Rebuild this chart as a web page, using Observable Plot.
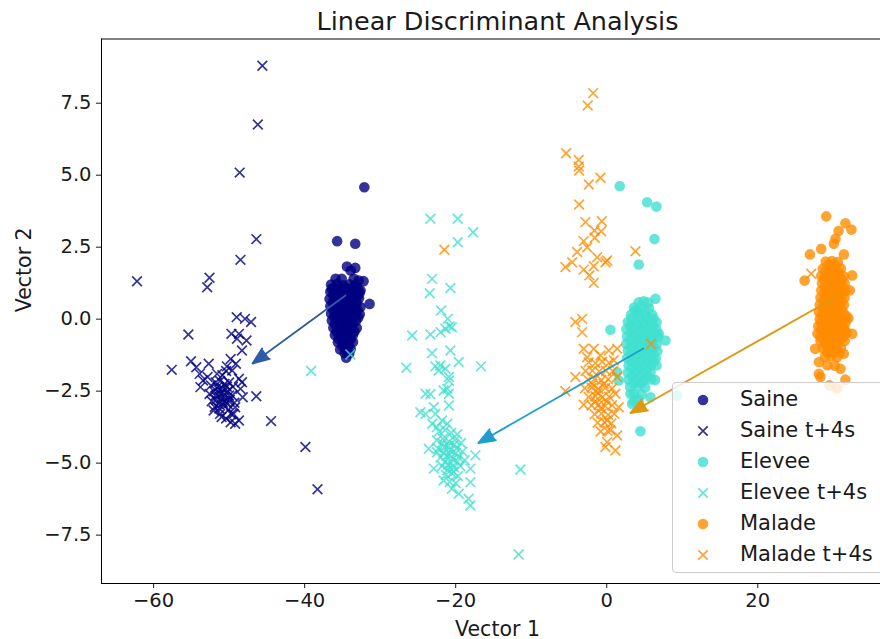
<!DOCTYPE html>
<html>
<head>
<meta charset="utf-8">
<script src="https://cdn.jsdelivr.net/npm/d3@7"></script>
<script src="https://cdn.jsdelivr.net/npm/@observablehq/plot@0.6"></script>
<style>
html, body { margin: 0; padding: 0; background: #fff; overflow: hidden; }
#wrap { position: relative; width: 880px; height: 639px; overflow: hidden; font-family: "DejaVu Sans", sans-serif; }
#legend { position: absolute; left: 672px; top: 382px; width: 240px; height: 191px; border: 1px solid #cccccc; border-radius: 4px; background: rgba(255,255,255,0.8); box-sizing: border-box; }
.item { position: absolute; left: 0; height: 31px; width: 240px; }
.item svg { position: absolute; left: 19px; top: 5px; }
.item span { position: absolute; left: 67px; top: 0; line-height: 31px; font-size: 21px; color: #1a1a1a; white-space: nowrap; }
</style>
</head>
<body>
<div id="wrap"><div id="chart"></div><div id="legend"></div></div>
<script>
// ---- axes / labels ----
const title = "Linear Discriminant Analysis";
const xLabel = "Vector 1";
const yLabel = "Vector 2";
const xDomain = [-66.9, 36.25];
const yDomain = [-9.18, 9.73];
const xTicks = [-60, -40, -20, 0, 20];
const yTicks = [-7.5, -5, -2.5, 0, 2.5, 5, 7.5];

const seriesNames = ["Saine", "Saine t+4s", "Elevee", "Elevee t+4s", "Malade", "Malade t+4s"];
const classColors = ["navy", "turquoise", "darkorange"];
const arrowColors = ["#2d5ba8", "#1f9dcc", "#dc9a14"];

// ---- data (Vector 1, Vector 2) ----
const saine = [
  [-32.1, 4.58], [-35.7, 2.71], [-33.3, 2.62], [-34.4, 1.83], [-33.3, 1.78], [-33.9, 1.69],
  [-35.9, 1.40], [-35.1, 1.40], [-33.5, 1.40], [-32.85, 1.34], [-32.2, 1.32], [-31.4, 0.53],
  [-36.4, 1.06], [-32.6, 1.0], [-34.5, -1.34], [-34.8, -0.86], [-34.3, -0.95],
  [-36.5, 1.2], [-35.7, 1.22], [-34.9, 1.18], [-34.1, 1.21], [-33.3, 1.17],
  [-36.6, 0.95], [-35.8, 0.97], [-35.0, 0.93], [-34.2, 0.96], [-33.4, 0.94], [-32.7, 0.92],
  [-36.7, 0.7], [-35.9, 0.72], [-35.1, 0.68], [-34.3, 0.71], [-33.5, 0.69], [-32.8, 0.73],
  [-36.6, 0.45], [-35.8, 0.47], [-35.0, 0.43], [-34.2, 0.46], [-33.4, 0.44], [-32.6, 0.42],
  [-36.5, 0.2], [-35.7, 0.22], [-34.9, 0.18], [-34.1, 0.21], [-33.3, 0.19], [-32.7, 0.17],
  [-36.4, -0.05], [-35.6, -0.03], [-34.8, -0.07], [-34.0, -0.04], [-33.2, -0.06],
  [-36.2, -0.3], [-35.4, -0.28], [-34.6, -0.32], [-33.8, -0.29], [-33.1, -0.31],
  [-36.0, -0.55], [-35.2, -0.53], [-34.4, -0.57], [-33.6, -0.54],
  [-35.6, -0.8], [-34.9, -0.78], [-34.2, -0.82], [-33.6, -0.79],
  [-35.3, -1.05], [-34.6, -1.07], [-33.9, -1.04],
  [-36.1, 1.08], [-35.3, 1.08], [-34.5, 1.07], [-33.7, 1.09], [-33.0, 1.08],
  [-36.2, 0.83], [-35.4, 0.84], [-34.6, 0.82], [-33.8, 0.83], [-33.0, 0.81],
  [-36.3, 0.58], [-35.5, 0.57], [-34.7, 0.59], [-33.9, 0.58], [-33.1, 0.56],
  [-36.2, 0.33], [-35.4, 0.34], [-34.6, 0.32], [-33.8, 0.33], [-33.0, 0.31],
  [-36.1, 0.08], [-35.3, 0.07], [-34.5, 0.09], [-33.7, 0.08], [-32.9, 0.06],
  [-36.0, -0.18], [-35.2, -0.17], [-34.4, -0.19], [-33.6, -0.18],
  [-35.8, -0.43], [-35.0, -0.42], [-34.2, -0.44], [-33.4, -0.43],
  [-35.5, -0.68], [-34.7, -0.67], [-33.9, -0.69],
  [-35.0, -0.93], [-34.2, -0.92], [-34.7, -1.18], [-34.1, -1.19]
];
const saineT4 = [
  [-45.6, 8.8], [-46.2, 6.76], [-48.6, 5.09], [-46.4, 2.78], [-48.5, 2.06], [-62.2, 1.32],
  [-52.6, 1.44], [-52.9, 1.11], [-49.0, 0.07], [-47.9, 0.01], [-47.1, -0.10], [-55.4, -0.53],
  [-49.7, -0.51], [-48.7, -0.51], [-48.96, -0.68], [-47.7, -0.74], [-48.3, -1.09], [-57.6, -1.76],
  [-55.05, -1.46], [-54.35, -1.67], [-52.7, -1.55], [-53.9, -1.9], [-49.8, -1.38], [-50.3, -1.64],
  [-49.1, -1.55], [-49.6, -1.78], [-53.45, -2.13], [-52.85, -2.01], [-53.8, -2.36], [-48.7, -2.07],
  [-48.3, -2.19], [-48.5, -2.42], [-48.2, -2.71], [-46.4, -2.68], [-49.2, -3.06], [-49.4, -3.29],
  [-51.2, -3.29], [-52.05, -3.17], [-49.8, -3.58], [-49.2, -3.63], [-48.7, -3.52], [-44.45, -3.54],
  [-39.9, -4.44], [-38.3, -5.91],
  [-52.4, -2.3], [-51.8, -2.2], [-51.2, -2.15], [-50.6, -2.25], [-50.0, -2.2], [-49.5, -2.35],
  [-52.6, -2.6], [-52.0, -2.5], [-51.4, -2.45], [-50.8, -2.55], [-50.2, -2.5], [-49.6, -2.65],
  [-52.3, -2.85], [-51.7, -2.8], [-51.1, -2.75], [-50.5, -2.85], [-49.9, -2.8], [-49.3, -2.9],
  [-51.9, -3.05], [-51.3, -3.1], [-50.7, -3.0], [-50.1, -3.15], [-49.7, -3.3],
  [-51.6, -1.9], [-50.9, -1.95], [-50.4, -1.8], [-51.0, -3.4], [-50.4, -3.45],
  [-51.5, -2.35], [-50.9, -2.4], [-50.3, -2.35], [-51.8, -2.65], [-51.2, -2.6], [-50.6, -2.7],
  [-50.0, -2.65], [-51.4, -2.95], [-50.8, -2.9], [-50.2, -2.95]
];
const elevee = [
  [1.72, 4.62], [5.35, 4.06], [6.58, 3.91], [6.32, 2.78], [4.24, 1.90], [6.45, 0.71],
  [4.24, 0.59], [3.8, 0.30], [0.49, -0.37], [7.77, -0.74], [6.89, -0.51], [1.38, -1.84],
  [1.59, -2.13], [4.46, -3.89], [9.32, -2.65], [3.36, -2.94], [3.14, -2.59], [5.79, -2.71],
  [3.6, 0.4], [4.6, 0.42], [5.6, 0.38], [4.9, 0.62], [5.5, 0.58],
  [3.2, 0.15], [4.2, 0.17], [5.2, 0.13], [6.0, 0.16],
  [2.8, -0.1], [3.8, -0.08], [4.8, -0.12], [5.8, -0.09], [6.6, -0.11],
  [2.6, -0.35], [3.6, -0.33], [4.6, -0.37], [5.6, -0.34], [6.6, -0.36],
  [2.7, -0.6], [3.7, -0.58], [4.7, -0.62], [5.7, -0.59], [6.8, -0.61],
  [2.6, -0.85], [3.6, -0.83], [4.6, -0.87], [5.6, -0.84], [6.6, -0.86],
  [2.8, -1.1], [3.8, -1.08], [4.8, -1.12], [5.8, -1.09], [6.7, -1.11],
  [2.7, -1.35], [3.7, -1.33], [4.7, -1.37], [5.7, -1.34], [6.5, -1.36],
  [2.9, -1.6], [3.9, -1.58], [4.9, -1.62], [5.9, -1.59], [6.6, -1.61],
  [2.8, -1.85], [3.8, -1.83], [4.8, -1.87], [5.8, -1.84],
  [2.9, -2.1], [3.9, -2.08], [4.9, -2.12], [5.9, -2.09], [6.4, -2.11],
  [3.1, -2.35], [4.1, -2.33], [5.1, -2.37], [3.6, -2.6], [4.6, -2.62],
  [3.6, -2.85], [4.2, -2.8],
  [4.1, 0.28], [5.1, 0.27],
  [3.3, 0.02], [4.3, 0.03], [5.3, 0.01], [6.2, 0.02],
  [3.1, -0.23], [4.1, -0.22], [5.1, -0.24], [6.1, -0.23],
  [3.2, -0.48], [4.2, -0.47], [5.2, -0.49], [6.2, -0.48],
  [3.1, -0.73], [4.1, -0.72], [5.1, -0.74], [6.1, -0.73],
  [3.2, -0.98], [4.2, -0.97], [5.2, -0.99], [6.2, -0.98],
  [3.2, -1.23], [4.2, -1.22], [5.2, -1.24], [6.1, -1.23],
  [3.3, -1.48], [4.3, -1.47], [5.3, -1.49], [6.2, -1.48],
  [3.3, -1.73], [4.3, -1.72], [5.3, -1.74],
  [3.4, -1.98], [4.4, -1.97], [5.4, -1.99], [3.6, -2.23], [4.6, -2.22]
];
const eleveeT4 = [
  [-23.35, 3.49], [-19.73, 3.49], [-17.7, 3.02], [-19.73, 2.67], [-23.13, 1.40], [-23.44, 0.90],
  [-20.7, 1.08], [-21.93, 0.30], [-21.05, 0.01], [-20.8, -0.25], [-21.36, -0.33], [-22.0, -0.45],
  [-20.5, -0.28], [-25.77, -0.57], [-23.35, -0.53], [-23.13, -1.18], [-20.7, -1.09], [-19.6, -1.49],
  [-26.53, -1.69], [-22.69, -1.64], [-22.03, -1.61], [-21.36, -1.72], [-22.25, -1.78], [-16.64, -1.64],
  [-20.9, -2.01], [-20.9, -2.13], [-21.1, -2.42], [-21.6, -2.48], [-20.9, -2.59], [-24.0, -2.59],
  [-23.35, -2.61], [-20.9, -3.0], [-24.68, -3.23], [-24.0, -3.29], [-22.9, -3.06], [-22.7, -3.29],
  [-23.1, -3.63], [-22.5, -3.75], [-21.8, -3.52], [-21.1, -3.63], [-23.57, -4.5], [-22.9, -5.19],
  [-22.46, -4.62], [-17.39, -4.73], [-11.43, -5.22], [-18.05, -5.19], [-18.05, -5.66], [-19.6, -6.06],
  [-18.3, -6.24], [-18.05, -6.47], [-20.5, -5.89], [-21.6, -5.6], [-11.66, -8.17], [-39.15, -1.8],
  [-33.95, -1.23],
  [-22.2, -3.9], [-21.4, -3.85], [-20.6, -3.95], [-19.8, -4.0],
  [-22.5, -4.2], [-21.7, -4.15], [-20.9, -4.25], [-20.1, -4.2], [-19.3, -4.3],
  [-22.3, -4.5], [-21.5, -4.45], [-20.7, -4.55], [-19.9, -4.5], [-19.1, -4.6],
  [-22.0, -4.8], [-21.2, -4.75], [-20.4, -4.85], [-19.6, -4.8], [-18.8, -4.9],
  [-21.8, -5.1], [-21.0, -5.05], [-20.2, -5.15], [-19.4, -5.1],
  [-21.3, -5.4], [-20.5, -5.35], [-19.7, -5.45], [-20.8, -5.65], [-20.0, -5.7],
  [-21.8, -4.3], [-21.0, -4.4], [-20.2, -4.35], [-21.6, -4.65], [-20.8, -4.7], [-20.0, -4.65],
  [-21.4, -4.95], [-20.6, -5.0], [-19.8, -4.95], [-21.1, -5.25], [-20.3, -5.3]
];
const malade = [
  [29.06, 3.57], [31.6, 3.33], [32.4, 3.11], [30.7, 3.06], [30.3, 2.79], [30.07, 2.62],
  [28.4, 2.44], [26.9, 2.25], [31.4, 2.25], [32.5, 1.52], [26.2, 1.34], [32.2, 1.0],
  [32.5, -0.51], [27.6, -1.03], [28.1, -1.49], [30.95, -1.72], [28.1, -1.9], [28.3, -2.01],
  [31.6, -2.1], [31.4, -1.2], [29.5, -2.3], [30.5, -2.4],
  [29.0, 2.0], [29.8, 2.02], [30.6, 1.98],
  [28.6, 1.75], [29.4, 1.77], [30.2, 1.73], [31.0, 1.76],
  [28.4, 1.5], [29.2, 1.52], [30.0, 1.48], [30.8, 1.51], [31.4, 1.49],
  [28.5, 1.25], [29.3, 1.27], [30.1, 1.23], [30.9, 1.26], [31.5, 1.24],
  [28.4, 1.0], [29.2, 1.02], [30.0, 0.98], [30.8, 1.01], [31.6, 0.99],
  [28.3, 0.75], [29.1, 0.77], [29.9, 0.73], [30.7, 0.76], [31.5, 0.74],
  [28.2, 0.5], [29.0, 0.52], [29.8, 0.48], [30.6, 0.51], [31.4, 0.49],
  [28.1, 0.25], [28.9, 0.27], [29.7, 0.23], [30.5, 0.26], [31.3, 0.24],
  [28.2, 0.0], [29.0, 0.02], [29.8, -0.02], [30.6, 0.01], [31.4, -0.01], [32.0, 0.03],
  [28.0, -0.25], [28.8, -0.23], [29.6, -0.27], [30.4, -0.24], [31.2, -0.26],
  [27.9, -0.5], [28.7, -0.48], [29.5, -0.52], [30.3, -0.49], [31.1, -0.51], [31.8, -0.47],
  [28.3, -0.75], [29.1, -0.73], [29.9, -0.77], [30.7, -0.74], [31.5, -0.76],
  [28.6, -1.0], [29.4, -0.98], [30.2, -1.02], [31.0, -0.99],
  [28.9, -1.3], [29.7, -1.28], [30.5, -1.32], [29.2, -1.6], [30.2, -1.62],
  [29.4, 1.88], [30.2, 1.87],
  [29.0, 1.63], [29.8, 1.62], [30.6, 1.64],
  [28.8, 1.38], [29.6, 1.37], [30.4, 1.39], [31.1, 1.38],
  [28.9, 1.13], [29.7, 1.12], [30.5, 1.14], [31.2, 1.13],
  [28.8, 0.88], [29.6, 0.87], [30.4, 0.89], [31.2, 0.88],
  [28.7, 0.63], [29.5, 0.62], [30.3, 0.64], [31.1, 0.63],
  [28.6, 0.38], [29.4, 0.37], [30.2, 0.39], [31.0, 0.38],
  [28.5, 0.13], [29.3, 0.12], [30.1, 0.14], [30.9, 0.13], [31.7, 0.12],
  [28.4, -0.12], [29.2, -0.13], [30.0, -0.11], [30.8, -0.12], [31.6, -0.13],
  [28.4, -0.37], [29.2, -0.36], [30.0, -0.38], [30.8, -0.37], [31.5, -0.36],
  [28.3, -0.62], [29.1, -0.63], [29.9, -0.61], [30.7, -0.62], [31.3, -0.63],
  [28.9, -0.87], [29.7, -0.86], [30.5, -0.88], [29.2, -1.15], [30.0, -1.14], [30.8, -1.16]
];
const maladeT4 = [
  [-1.8, 7.85], [-2.52, 7.42], [-5.38, 5.76], [-3.71, 5.53], [-3.71, 5.30], [-3.65, 5.16],
  [-0.83, 4.91], [-2.38, 4.68], [-3.66, 3.98], [-2.82, 3.37], [-0.65, 3.40], [-1.63, 3.08],
  [-0.74, 3.05], [-1.59, 2.83], [-3.05, 2.71], [-2.6, 2.50], [-3.92, 2.33], [-4.58, 1.98],
  [-5.47, 1.81], [-3.05, 1.72], [-1.72, 1.84], [-1.27, 2.15], [0.05, 2.04], [-1.72, 1.26],
  [-2.3, 1.52], [-0.17, 1.98], [3.8, 2.36], [-21.5, 2.41], [27.07, 1.58], [-4.15, -0.10],
  [-3.26, 0.01], [-3.26, -0.45], [5.85, -0.86],
  [-3.05, -1.03], [-1.72, -1.03], [0.27, -1.09], [1.38, -1.03], [-2.6, -1.32], [-0.83, -1.26],
  [0.93, -1.43], [-4.15, -2.01], [-5.47, -2.5], [-3.05, -2.97], [1.38, -2.01], [1.15, -2.59],
  [1.59, -3.06], [0.05, -3.52], [0.49, -3.86], [1.38, -4.04], [-0.17, -4.44], [1.15, -4.56],
  [0.05, -4.27],
  [-2.4, -1.5], [-1.5, -1.52], [-0.6, -1.48], [0.3, -1.51],
  [-2.8, -1.8], [-1.9, -1.78], [-1.0, -1.82], [-0.1, -1.79], [0.8, -1.81],
  [-2.5, -2.1], [-1.6, -2.08], [-0.7, -2.12], [0.2, -2.09],
  [-2.9, -2.4], [-2.0, -2.38], [-1.1, -2.42], [-0.2, -2.39], [0.7, -2.41],
  [-2.4, -2.7], [-1.5, -2.68], [-0.6, -2.72], [0.3, -2.69],
  [-2.0, -3.0], [-1.1, -2.98], [-0.2, -3.02], [0.7, -2.99],
  [-1.6, -3.3], [-0.7, -3.28], [0.2, -3.32], [1.0, -3.29],
  [-1.2, -3.6], [-0.3, -3.58], [0.6, -3.62], [-0.8, -3.9], [0.1, -3.88],
  [-1.9, -2.25], [-1.2, -2.55], [-0.4, -2.25], [-1.5, -2.85], [-0.8, -3.1], [0.0, -2.85]
];
// arrows: from class mean at t to class mean at t+4s
const arrowFrom = [[-34.6, 0.82], [4.86, -1.02], [30.3, 0.76]];
const arrowTo = [[-46.9, -1.54], [-17.0, -4.3], [3.14, -3.26]];

const circleSets = [saine, elevee, malade];
const crossSets = [saineT4, eleveeT4, maladeT4];

const marks = [];
for (let i = 0; i < 3; i++) {
  marks.push(Plot.dot(circleSets[i], {x: d => d[0], y: d => d[1], r: 5.3, fill: classColors[i], fillOpacity: 0.8, stroke: "none"}));
  marks.push(Plot.dot(crossSets[i], {x: d => d[0], y: d => d[1], r: 4.5, symbol: "times", stroke: classColors[i], strokeOpacity: 0.8, strokeWidth: 1.7}));
}
for (let i = 0; i < 3; i++) {
  marks.push(Plot.arrow([i], {
    x1: j => arrowFrom[j][0], y1: j => arrowFrom[j][1],
    x2: j => arrowTo[j][0], y2: j => arrowTo[j][1],
    stroke: arrowColors[i], fill: arrowColors[i], strokeWidth: 1.9,
    headLength: 14, headAngle: 42
  }));
}
// spines
marks.push(Plot.ruleX([xDomain[0]], {stroke: "black", strokeWidth: 1}));
marks.push(Plot.ruleY([yDomain[0]], {stroke: "black", strokeWidth: 1}));
marks.push(Plot.ruleY([yDomain[1]], {stroke: "black", strokeWidth: 1}));
// title & axis labels
marks.push(Plot.text([title], {text: d => d, frameAnchor: "top", dx: 6.5, dy: -9.5, lineAnchor: "bottom", fontSize: 25.5, fill: "#1a1a1a"}));
marks.push(Plot.text([xLabel], {text: d => d, frameAnchor: "bottom", dx: 6.5, dy: 52, lineAnchor: "bottom", fontSize: 20.5, fill: "#1a1a1a"}));
marks.push(Plot.text([yLabel], {text: d => d, frameAnchor: "left", dx: -71, dy: 1, rotate: -90, lineAnchor: "bottom", fontSize: 20.5, fill: "#1a1a1a"}));

const chart = Plot.plot({
  width: 880,
  height: 639,
  marginLeft: 101,
  marginRight: 0,
  marginTop: 38.5,
  marginBottom: 56,
  style: {fontFamily: "DejaVu Sans", fontSize: "19.5px", color: "#1a1a1a", background: "white", overflow: "visible"},
  x: {domain: xDomain, ticks: xTicks, tickSize: 5, tickPadding: 5, label: null, tickFormat: d3.format("d")},
  y: {domain: yDomain, ticks: yTicks, tickSize: 5, tickPadding: 5, label: null, tickFormat: d3.format(".1f")},
  marks
});
document.getElementById("chart").appendChild(chart);

// ---- legend ----
const legend = document.getElementById("legend");
seriesNames.forEach((name, i) => {
  const color = classColors[Math.floor(i / 2)];
  const isCross = i % 2 === 1;
  const item = document.createElement("div");
  item.className = "item";
  item.style.top = (1 + i * 31) + "px";
  const svgNS = "http://www.w3.org/2000/svg";
  const svg = document.createElementNS(svgNS, "svg");
  svg.setAttribute("width", 22); svg.setAttribute("height", 22);
  if (isCross) {
    const p = document.createElementNS(svgNS, "path");
    p.setAttribute("d", "M6.3,6.3L15.7,15.7M6.3,15.7L15.7,6.3");
    p.setAttribute("stroke", color); p.setAttribute("stroke-opacity", 0.8); p.setAttribute("stroke-width", 1.7);
    svg.appendChild(p);
  } else {
    const c = document.createElementNS(svgNS, "circle");
    c.setAttribute("cx", 11); c.setAttribute("cy", 11); c.setAttribute("r", 5.3);
    c.setAttribute("fill", color); c.setAttribute("fill-opacity", 0.8);
    svg.appendChild(c);
  }
  item.appendChild(svg);
  const span = document.createElement("span");
  span.textContent = name;
  item.appendChild(span);
  legend.appendChild(item);
});
</script>
</body>
</html>
